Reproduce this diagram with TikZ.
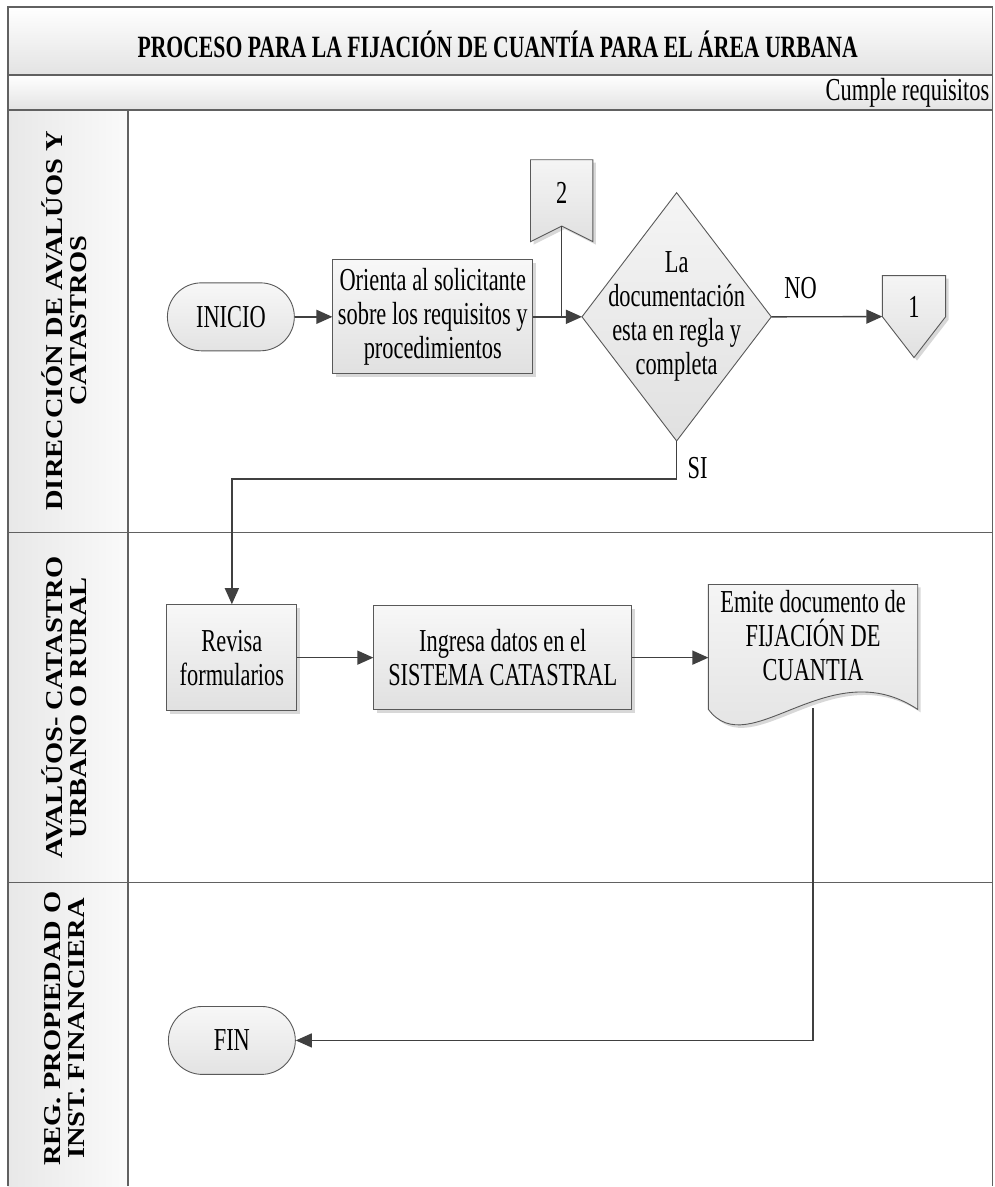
\documentclass[tikz,border=0pt]{standalone}
\usepackage{fontspec}
\setmainfont{Liberation Serif}[FakeStretch=0.70]
\newfontfamily\lanefont{Liberation Serif}
\usetikzlibrary{arrows.meta,shadows,backgrounds,calc,shapes.misc}

\begin{document}
\begin{tikzpicture}[x=1pt,y=-1pt,
  frame/.style={draw=black!62, line width=1.3pt},
  band/.style={top color=white, bottom color=white!89!black},
  head/.style={left color=white!91!black, right color=white!98!black},
  body/.style={font=\fontsize{32}{34}\selectfont, align=center},
  softshadow/.style={drop shadow={shadow xshift=3pt, shadow yshift=-3pt, opacity=0.3, fill=black!50}},
  box/.style={body, rectangle, draw=black!65, line width=0.9pt,
    top color=white!97!black, bottom color=white!88!black, softshadow, inner sep=1pt},
  term/.style={body, rounded rectangle, draw=black!65, line width=0.9pt,
    top color=white!97!black, bottom color=white!89!black,
    minimum height=68pt, inner sep=1pt},
  ghost/.style={body, draw=none, inner sep=0pt},
  outline/.style={draw=black!65, line width=0.9pt, top color=white!96!black, bottom color=white!88!black},
  flow/.style={draw=black!75, line width=1.4pt},
  arr/.style={flow, -{Triangle[length=16pt,width=14pt]}},
  lanetext/.style={rotate=90, font=\lanefont\fontsize{28.5}{28.5}\selectfont\bfseries},
]

% ---------- swimlane frame ----------
\fill[band] (8,7) rectangle (993,75);
\fill[band] (8,75) rectangle (993,110);
\fill[head] (8,110) rectangle (128,533);
\fill[head] (8,533) rectangle (128,883);
\fill[head] (8,883) rectangle (128,1187);
\draw[frame] (8,1187) -- (8,7) -- (993,7) -- (993,1187);
\draw[frame] (8,75) -- (993,75);
\draw[frame] (8,110) -- (993,110);
\draw[frame] (8,533) -- (993,533);
\draw[frame] (8,883) -- (993,883);
\draw[frame] (128,110) -- (128,1187);

\node[font=\fontsize{31}{34}\selectfont\bfseries] (title) at (498,44)
  {PROCESO PARA LA FIJACIÓN DE CUANTÍA PARA EL ÁREA URBANA};
\node[anchor=east, font=\fontsize{32}{34}\selectfont, inner sep=0pt] (cumple) at (990,93)
  {Cumple requisitos};

\node[lanetext] (lane1) at (68,321)
  {\scalebox{1}[0.85]{\begin{tabular}{@{}c@{}}DIRECCIÓN DE AVALÚOS Y\\CATASTROS\end{tabular}}};
\node[lanetext] (lane2) at (68,708)
  {\scalebox{1}[0.85]{\begin{tabular}{@{}c@{}}AVALÚOS- CATASTRO\\URBANO O RURAL\end{tabular}}};
\node[lanetext] (lane3) at (68,1029)
  {\scalebox{1}[0.85]{\begin{tabular}{@{}c@{}}REG. PROPIEDAD O\\INST. FINANCIERA\end{tabular}}};

% ---------- flow nodes ----------
\node[term, minimum width=129pt] (inicio) at (231,317) {INICIO};
\node[box, minimum width=200pt, minimum height=114pt] (orienta) at (433,317)
  {Orienta al solicitante\\sobre los requisitos y\\procedimientos};
\node[ghost, minimum width=189pt, minimum height=248pt] (dec) at (677,317)
  {La\\documentación\\esta en regla y\\completa};
\node[ghost, minimum width=62pt, minimum height=66pt] (c2) at (562,193) {2};
\node[ghost, minimum width=63pt, minimum height=62pt] (c1) at (914.5,307) {1};
\node[box, minimum width=130pt, minimum height=106pt] (revisa) at (232,658)
  {Revisa\\formularios};
\node[box, minimum width=258pt, minimum height=104pt] (ingresa) at (503,658)
  {Ingresa datos en el\\SISTEMA CATASTRAL};
\node[ghost, minimum width=209pt, minimum height=102pt] (emite) at (813.5,636)
  {Emite documento de\\FIJACIÓN DE\\CUANTIA};
\node[term, minimum width=129pt] (fin) at (232,1041) {FIN};

% ---------- outlines of the special shapes, under their texts ----------
\begin{scope}[on background layer]
  \fill[white] (0,0) rectangle (995,1187);
  \path[outline] (dec.north) -- (dec.east) -- (dec.south) -- (dec.west) -- cycle;
  \path[outline, softshadow] (c2.north west) -- (c2.north east) -- ([yshift=-82pt]c2.north east)
    -- (c2.south) -- ([yshift=-82pt]c2.north west) -- cycle;
  \path[outline, softshadow] (c1.north west) -- (c1.north east) -- ([yshift=-41pt]c1.north east)
    -- ([yshift=-82pt]c1.north) -- ([yshift=-41pt]c1.north west) -- cycle;
  \path[outline, softshadow] (emite.north west) -- (emite.north east)
    -- ([yshift=-125pt]emite.north east)
    .. controls ($(emite.north west)+(121,66)$) and ($(emite.north west)+(41,180)$)
    .. ([yshift=-125pt]emite.north west) -- cycle;
\end{scope}

% ---------- connectors ----------
\draw[arr] (inicio.east) -- (orienta.west);
\draw[arr] (orienta.east) -- (dec.west);
\draw[flow] (c2.south) -- (c2.south |- dec.west);
\draw[arr] (dec.east) -- ([yshift=-41pt]c1.north west);
\draw[arr] (dec.south) -- ++(0,38) -| (revisa.north);
\draw[arr] (revisa.east) -- (ingresa.west);
\draw[arr] (ingresa.east) -- (emite.west |- ingresa.east);
\coordinate (emiteout) at ($(emite.north)+(0,124)$);
\draw[arr] (emiteout) |- (fin.east);

\node[body, inner sep=0pt] (no) at (801,288) {NO};
\node[body, inner sep=0pt] (si) at (698,468) {SI};
\end{tikzpicture}
\end{document}
